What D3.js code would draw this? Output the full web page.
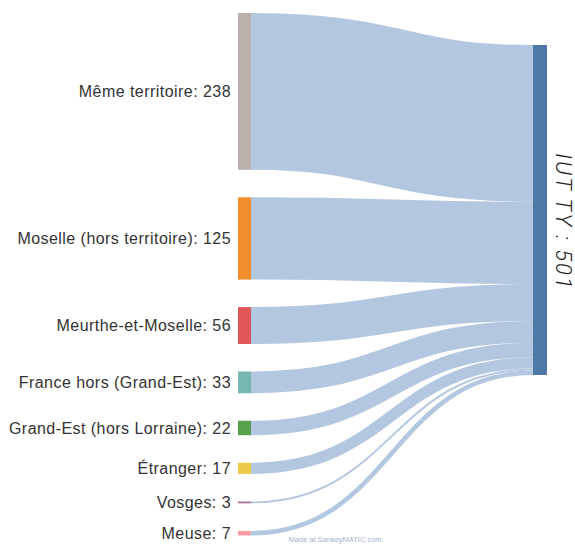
<!DOCTYPE html>
<html>
<head>
<meta charset="utf-8">
<script src="https://cdn.jsdelivr.net/npm/d3@7"></script>
<style>
  body { margin: 0; background: #fff; }
  svg { display: block; font-family: "Liberation Sans", Arial, sans-serif; }
</style>
</head>
<body>
<svg id="chart" width="575" height="544"></svg>
<script>
// source nodes, top to bottom
const sources = ["Même territoire", "Moselle (hors territoire)", "Meurthe-et-Moselle",
  "France hors (Grand-Est)", "Grand-Est (hors Lorraine)", "Étranger", "Vosges", "Meuse"];
const values = [238, 125, 56, 33, 22, 17, 3, 7];
const colors = ["#bab0ac", "#f28e2b", "#e15759", "#76b7b2", "#59a14f", "#edc948", "#b07aa1", "#ff9da7"];
const target = "IUT TY";
const targetColor = "#4e79a7";

const svg = d3.select("#chart");
const total = d3.sum(values);

const nodeW = 13;
const leftX = 238, rightX = 533;
const yTop = 13, yBottom = 535.5, rightTop = 45;
const flowH = 330;

// value -> pixel height
const h = d3.scaleLinear().domain([0, total]).range([0, flowH]);
const gap = (yBottom - yTop - flowH) / (sources.length - 1);

// layout of left nodes
let y = yTop, ty = rightTop;
const nodes = sources.map((name, i) => {
  const n = { name, value: values[i], color: colors[i], y0: y, y1: y + h(values[i]), t0: ty, t1: ty + h(values[i]) };
  y = n.y1 + gap;
  ty = n.t1;
  return n;
});

const link = d3.linkHorizontal().x(d => d[0]).y(d => d[1]);

// flows
svg.append("g")
  .selectAll("path")
  .data(nodes)
  .join("path")
  .attr("d", d => link({ source: [leftX + nodeW, (d.y0 + d.y1) / 2], target: [rightX, (d.t0 + d.t1) / 2] }))
  .attr("fill", "none")
  .attr("stroke", "#b0c4de")
  .attr("stroke-opacity", 0.95)
  .attr("stroke-width", d => Math.max(1, d.y1 - d.y0));

// left nodes
svg.append("g")
  .selectAll("rect")
  .data(nodes)
  .join("rect")
  .attr("x", leftX)
  .attr("y", d => d.y0)
  .attr("width", nodeW)
  .attr("height", d => Math.max(1.5, d.y1 - d.y0))
  .attr("fill", d => d.color);

// labels
svg.append("g")
  .selectAll("text")
  .data(nodes)
  .join("text")
  .attr("x", leftX - 7)
  .attr("y", d => (d.y0 + d.y1) / 2)
  .attr("dy", "0.35em")
  .attr("text-anchor", "end")
  .attr("font-size", 16)
  .attr("letter-spacing", 0.45)
  .attr("fill", "#333")
  .text(d => `${d.name}: ${d.value}`);

// right node
svg.append("rect")
  .attr("x", rightX)
  .attr("y", rightTop)
  .attr("width", nodeW + 1)
  .attr("height", h(total))
  .attr("fill", targetColor);

svg.append("text")
  .attr("transform", `translate(556, ${rightTop + h(total) / 2 + 12}) rotate(90)`)
  .attr("text-anchor", "middle")
  .attr("font-family", "Roboto, sans-serif")
  .attr("font-weight", 300)
  .attr("font-style", "italic")
  .attr("font-size", 22)
  .attr("letter-spacing", 2)
  .attr("fill", "#222")
  .text(`${target} : ${total}`);

svg.append("text")
  .attr("x", 335)
  .attr("y", 542)
  .attr("text-anchor", "middle")
  .attr("font-size", 7.5)
  .attr("fill", "#9fb3cc")
  .text("Made at SankeyMATIC.com");
</script>
</body>
</html>
